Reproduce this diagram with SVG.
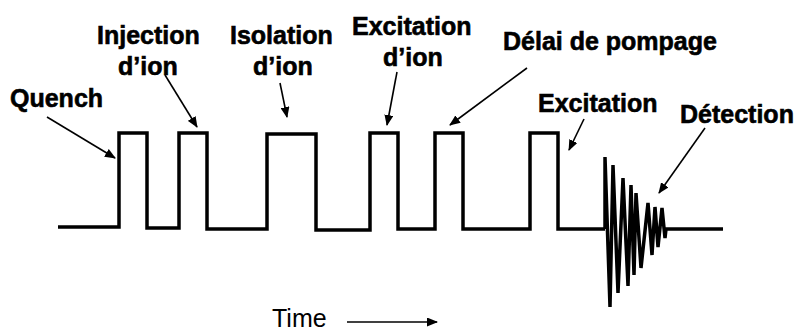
<svg xmlns="http://www.w3.org/2000/svg" width="801" height="332" viewBox="0 0 801 332">
<defs>
<marker id="ah" markerWidth="11" markerHeight="9" refX="10" refY="4.5" orient="auto" markerUnits="userSpaceOnUse">
<path d="M0,0 L11,4.5 L0,9 Z" fill="#000"/>
</marker>
<style>
.lbl{font-family:"Liberation Sans",Arial,sans-serif;font-weight:bold;font-size:25px;fill:#000;stroke:#000;stroke-width:0.6}
.reg{font-family:"Liberation Sans",Arial,sans-serif;font-size:25px;fill:#000}
.arr{stroke:#000;stroke-width:1.6;fill:none;marker-end:url(#ah)}
.wave{stroke:#000;stroke-width:3.5;fill:none;stroke-linejoin:miter}
</style>
</defs>
<rect width="801" height="332" fill="#fff"/>
<g id="waveform">
<path class="wave" d="M58,227 H119 V133 H147 V228 H179 V133 H207 V229 H267 V134 H316 V230 H370 V133 H398 V229 H435 V133 H463 V229 H530 V133 H558 V229 H605"/>
<path class="wave" stroke-width="4" stroke-linejoin="round" d="M605,229 L605,157 L610,307 L613,165 L618,293 L623,178 L628,286 L631,185 L634,275 L636,193 L641,268 L648,203 L652,255 L655,207 L658,247 L662,208 L665,238 L666,229 H723"/>
</g>
<g id="quench"><text class="lbl" x="10" y="107">Quench</text></g>
<g id="injection"><text class="lbl" x="97" y="44">Injection</text><text class="lbl" x="118" y="75">d’ion</text></g>
<g id="isolation"><text class="lbl" x="230" y="44">Isolation</text><text class="lbl" x="253" y="75">d’ion</text></g>
<g id="excitation-ion"><text class="lbl" x="352" y="35">Excitation</text><text class="lbl" x="383" y="66">d’ion</text></g>
<g id="delai"><text class="lbl" x="503" y="50">Délai de pompage</text></g>
<g id="excitation"><text class="lbl" x="538" y="112">Excitation</text></g>
<g id="detection"><text class="lbl" x="680" y="123">Détection</text></g>
<g id="time"><text class="reg" x="272" y="327">Time</text></g>
<g id="connectors">
<line class="arr" x1="47" y1="117" x2="115" y2="158"/>
<line class="arr" x1="165" y1="75" x2="197" y2="127"/>
<line class="arr" x1="280" y1="83" x2="287" y2="117"/>
<line class="arr" x1="397" y1="72" x2="387" y2="125"/>
<line class="arr" x1="527" y1="68" x2="450" y2="125"/>
<line class="arr" x1="584" y1="119" x2="569" y2="150"/>
<line class="arr" x1="705" y1="128" x2="659" y2="193"/>
<line class="arr" x1="347" y1="322" x2="437" y2="322"/>
</g>
</svg>
